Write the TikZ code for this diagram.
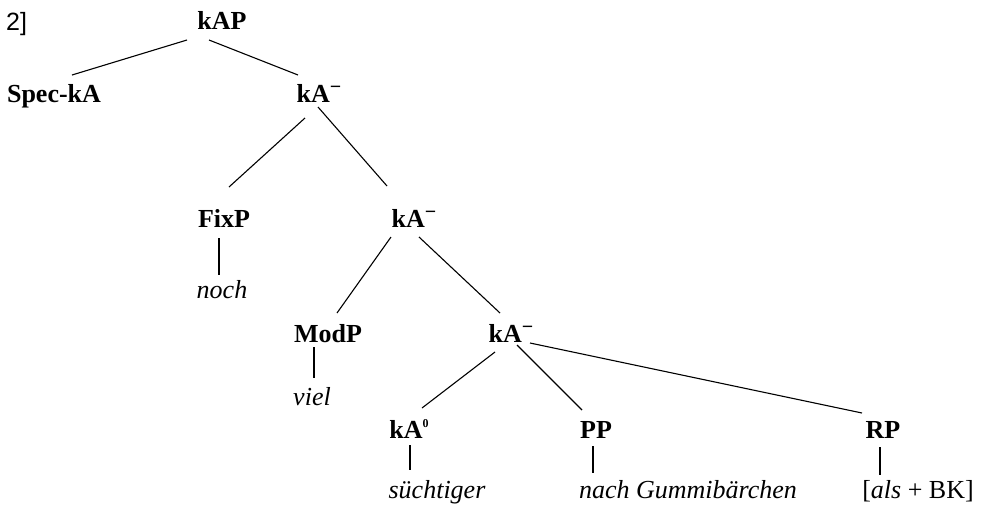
\documentclass[tikz,border=0pt]{standalone}
\usepackage{fontspec}
\setmainfont{Liberation Serif}
\newfontfamily\labelsans{Liberation Sans}
\usetikzlibrary{calc}
\newcommand\barsup{\raisebox{9pt}{\fontsize{20}{20}\selectfont\char"2212}}
\newcommand\zerosup{\raisebox{10.5pt}{\fontsize{12}{12}\selectfont 0}}
\begin{document}
\begin{tikzpicture}[x=1pt,y=-1pt,
  cat/.style={inner sep=0pt,anchor=base,font=\fontsize{26}{30}\selectfont\bfseries},
  word/.style={inner sep=0pt,anchor=base,font=\fontsize{26}{30}\selectfont\itshape},
  branch/.style={line width=1.1pt}]
\useasboundingbox (0,0) rectangle (993,504);

% example number
\node[inner sep=0pt,anchor=base west,font=\labelsans\fontsize{25}{29}\selectfont] (num) at (6,30) {2]};

% category labels
\node[cat] (kAP)  at (222,29)  {kAP};
\node[cat] (spec) at (54,102)  {Spec-kA};
\node[cat] (kA1)  at (319,102) {kA\barsup};
\node[cat] (fix)  at (224,227) {FixP};
\node[cat] (kA2)  at (414,227) {kA\barsup};
\node[cat] (mod)  at (328,342) {ModP};
\node[cat] (kA3)  at (511,342) {kA\barsup};
\node[cat] (kA0)  at (409,438) {kA\zerosup};
\node[cat] (pp)   at (596,438) {PP};
\node[cat] (rp)   at (883,438) {RP};

% terminal strings
\node[word] (noch) at (222,298) {noch};
\node[word] (viel) at (312,405) {viel};
\node[word] (such) at (437,498) {süchtiger};
\node[word] (nach) at (688,498) {nach Gummibärchen};
\node[inner sep=0pt,anchor=base,font=\fontsize{26}{30}\selectfont] (als) at (918,498) {[\textit{als} + BK]};

% branches
\draw[branch] ($(kAP.base)+(-35,11)$) -- ($(spec.base)+(18,-27)$);
\draw[branch] ($(kAP.base)+(-13,11)$) -- ($(kA1.base)+(-21,-27)$);
\draw[branch] ($(kA1.base)+(-14,16)$) -- ($(fix.base)+(5,-40)$);
\draw[branch] ($(kA1.base)+(-1,5)$)   -- ($(kA2.base)+(-27,-41)$);
\draw[branch] ($(kA2.base)+(-23,10)$) -- ($(mod.base)+(9,-29)$);
\draw[branch] ($(kA2.base)+(5,10)$)   -- ($(kA3.base)+(-11,-29)$);
\draw[branch] ($(kA3.base)+(-16,10)$) -- ($(kA0.base)+(13,-30)$);
\draw[branch] ($(kA3.base)+(6,3)$)    -- ($(pp.base)+(-14,-28)$);
\draw[branch] ($(kA3.base)+(19,1)$)   -- ($(rp.base)+(-21,-25)$);

% unary bars to terminals
\draw[branch] ($(fix.base)+(-5,11)$)  -- ($(noch.base)+(-3,-23)$);
\draw[branch] ($(mod.base)+(-14,5)$)  -- ($(viel.base)+(2,-27)$);
\draw[branch] ($(kA0.base)+(1,7)$)    -- ($(such.base)+(-27,-28)$);
\draw[branch] ($(pp.base)+(-3,8)$)    -- ($(nach.base)+(-95,-25)$);
\draw[branch] ($(rp.base)+(-3,9)$)    -- ($(als.base)+(-38,-23)$);
\end{tikzpicture}
\end{document}
